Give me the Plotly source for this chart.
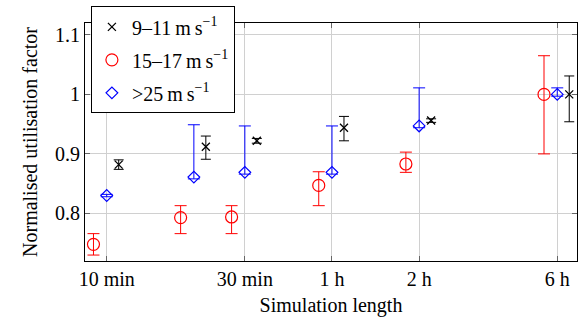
import plotly.graph_objects as go

# Simulation length in minutes (blue at nominal, red/black offset for clarity)
x_black = [11, 22, 33, 66, 132, 396]
x_red = [9, 18, 27, 54, 108, 324]
x_blue = [10, 20, 30, 60, 120, 360]

y_black = [0.882, 0.912, 0.922, 0.944, 0.956, 1.000]
eb_black_plus = [0.008, 0.018, 0.004, 0.019, 0.003, 0.031]
eb_black_minus = [0.008, 0.021, 0.004, 0.022, 0.003, 0.046]

y_red = [0.748, 0.793, 0.794, 0.847, 0.883, 1.000]
eb_red_plus = [0.018, 0.020, 0.019, 0.023, 0.020, 0.065]
eb_red_minus = [0.018, 0.027, 0.028, 0.034, 0.014, 0.100]

y_blue = [0.830, 0.861, 0.869, 0.869, 0.947, 1.000]
eb_blue_plus = [0.002, 0.088, 0.078, 0.078, 0.064, 0.011]
eb_blue_minus = [0.002, 0.003, 0.003, 0.003, 0.003, 0.003]

tick_vals = [10, 30, 60, 120, 360]
tick_text = ["10 min", "30 min", "1 h", "2 h", "6 h"]
y_ticks = [0.8, 0.9, 1.0, 1.1]
y_ticktext = ["0.8", "0.9", "1", "1.1"]

names = ["9–11\u2009m\u2009s<sup>−1</sup>", "15–17\u2009m\u2009s<sup>−1</sup>", ">25\u2009m\u2009s<sup>−1</sup>"]

FONT = "Liberation Serif"

fig = go.Figure()
fig.add_trace(go.Scatter(
    x=x_black, y=y_black, mode="markers", name=names[0], legendgroup="a",
    marker=dict(symbol="x-thin-open", size=8, color="black", line=dict(color="black", width=1.3)),
    error_y=dict(type="data", array=eb_black_plus, arrayminus=eb_black_minus,
                 color="black", thickness=1, width=5),
))
fig.add_trace(go.Scatter(
    x=x_red, y=y_red, mode="markers", name=names[1], legendgroup="b",
    marker=dict(symbol="circle-open", size=12, color="red", line=dict(color="red", width=1.2)),
    error_y=dict(type="data", array=eb_red_plus, arrayminus=eb_red_minus,
                 color="red", thickness=1, width=6),
))
fig.add_trace(go.Scatter(
    x=x_blue, y=y_blue, mode="markers", name=names[2], legendgroup="c",
    marker=dict(symbol="diamond-open", size=9, color="blue", line=dict(color="blue", width=1.2)),
    error_y=dict(type="data", array=eb_blue_plus, arrayminus=eb_blue_minus,
                 color="blue", thickness=1, width=6),
))

fig.update_layout(
    width=582, height=323,
    margin=dict(l=85, r=5, t=23, b=62),
    paper_bgcolor="white", plot_bgcolor="white",
    font=dict(family=FONT, size=20, color="black"),
    showlegend=True,
    legend=dict(
        x=0.012, y=1.07, xanchor="left", yanchor="top",
        bgcolor="white", bordercolor="black", borderwidth=1,
        font=dict(family=FONT, size=20), itemwidth=30,
        traceorder="grouped", tracegroupgap=4,
    ),
    xaxis=dict(
        type="log", range=[0.925, 2.6245],
        tickvals=tick_vals, ticktext=tick_text,
        showgrid=True, gridcolor="#d0d0d0", gridwidth=1,
        showline=True, linecolor="black", linewidth=1, mirror="ticks",
        ticks="inside", ticklen=5, tickcolor="#666",
        zeroline=False,
        title=dict(text="Simulation length", font=dict(family=FONT, size=20), standoff=8),
        tickfont=dict(family=FONT, size=20),
    ),
    yaxis=dict(
        range=[0.72, 1.12],
        tickvals=y_ticks, ticktext=y_ticktext,
        showgrid=True, gridcolor="#d0d0d0", gridwidth=1,
        showline=True, linecolor="black", linewidth=1, mirror="ticks",
        ticks="inside", ticklen=5, tickcolor="#666",
        zeroline=False,
        title=dict(text="Normalised utilisation factor", font=dict(family=FONT, size=20), standoff=12),
        tickfont=dict(family=FONT, size=20),
    ),
)

fig.write_html("out.html")
